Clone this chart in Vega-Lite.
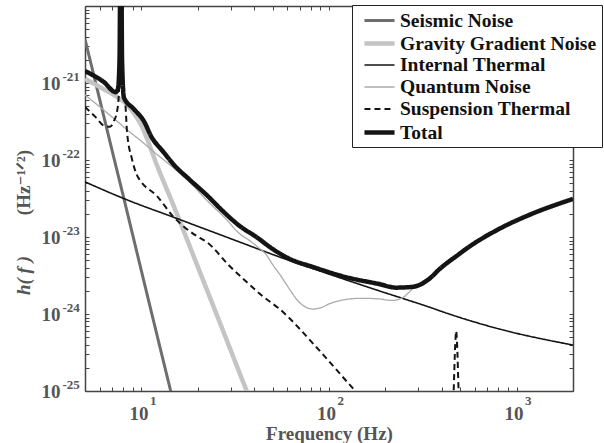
{
  "$schema": "https://vega.github.io/schema/vega-lite/v6.json",
  "width": 488,
  "height": 385,
  "autosize": "none",
  "padding": {"left": 85, "top": 6, "right": 31, "bottom": 52},
  "background": "white",
  "config": {
    "view": {"stroke": null},
    "axis": {
      "grid": false,
      "domainColor": "#444444",
      "domainWidth": 1.5,
      "tickColor": "#444444",
      "tickWidth": 1,
      "labelFont": "'Liberation Serif', 'DejaVu Serif', serif",
      "labelFontWeight": "bold",
      "labelFontSize": 19,
      "labelColor": "#555555",
      "titleFont": "'Liberation Serif', 'DejaVu Serif', serif",
      "titleFontWeight": "bold",
      "titleFontSize": 19,
      "titleColor": "#555555",
      "labelOverlap": false,
      "labelFlush": false,
      "labelBound": false
    },
    "legend": {
      "orient": "none", "legendX": 267, "legendY": -1,
      "strokeColor": "#222222", "fillColor": "white", "padding": 5,
      "symbolType": "M-1.67,0H1.67", "symbolSize": 324, "symbolOffset": 11,
      "labelFont": "'Liberation Serif', serif", "labelFontSize": 19.5, "labelFontWeight": "bold",
      "labelColor": "#111111", "labelOffset": 9, "rowPadding": 2, "labelLimit": 400
    }
  },
  "data": {
    "values": [
      {"s": "Seismic Noise", "f": 5, "h": 3.7e-21},
      {"s": "Seismic Noise", "f": 6, "h": 6.0e-22},
      {"s": "Seismic Noise", "f": 7, "h": 1.28e-22},
      {"s": "Seismic Noise", "f": 8, "h": 3.4e-23},
      {"s": "Seismic Noise", "f": 10, "h": 3.6e-24},
      {"s": "Seismic Noise", "f": 12, "h": 5.8e-25},
      {"s": "Seismic Noise", "f": 14, "h": 1.25e-25},
      {"s": "Seismic Noise", "f": 16, "h": 3.3e-26},

      {"s": "Gravity Gradient Noise", "f": 5, "h": 1.13e-21},
      {"s": "Gravity Gradient Noise", "f": 6.3, "h": 8.3e-22},
      {"s": "Gravity Gradient Noise", "f": 7.4, "h": 6.6e-22},
      {"s": "Gravity Gradient Noise", "f": 8.4, "h": 5.2e-22},
      {"s": "Gravity Gradient Noise", "f": 9.2, "h": 3.9e-22},
      {"s": "Gravity Gradient Noise", "f": 10, "h": 2.8e-22},
      {"s": "Gravity Gradient Noise", "f": 10.7, "h": 1.9e-22},
      {"s": "Gravity Gradient Noise", "f": 12, "h": 9.0e-23},
      {"s": "Gravity Gradient Noise", "f": 14.7, "h": 2.7e-23},
      {"s": "Gravity Gradient Noise", "f": 20.5, "h": 3.5e-24},
      {"s": "Gravity Gradient Noise", "f": 28, "h": 5.1e-25},
      {"s": "Gravity Gradient Noise", "f": 36.4, "h": 1.0e-25},
      {"s": "Gravity Gradient Noise", "f": 42.7, "h": 3.8e-26},

      {"s": "Internal Thermal", "f": 5, "h": 5.2e-23},
      {"s": "Internal Thermal", "f": 8.2, "h": 3.1e-23},
      {"s": "Internal Thermal", "f": 14.7, "h": 1.82e-23},
      {"s": "Internal Thermal", "f": 33.4, "h": 8.6e-24},
      {"s": "Internal Thermal", "f": 54.5, "h": 5.5e-24},
      {"s": "Internal Thermal", "f": 100, "h": 3.3e-24},
      {"s": "Internal Thermal", "f": 185, "h": 2.0e-24},
      {"s": "Internal Thermal", "f": 342, "h": 1.23e-24},
      {"s": "Internal Thermal", "f": 437, "h": 1.0e-24},
      {"s": "Internal Thermal", "f": 806, "h": 6.4e-25},
      {"s": "Internal Thermal", "f": 2000, "h": 3.95e-25},

      {"s": "Quantum Noise", "f": 5, "h": 7.0e-22},
      {"s": "Quantum Noise", "f": 6, "h": 4.9e-22},
      {"s": "Quantum Noise", "f": 7.4, "h": 3.2e-22},
      {"s": "Quantum Noise", "f": 8.5, "h": 2.4e-22},
      {"s": "Quantum Noise", "f": 10, "h": 1.75e-22},
      {"s": "Quantum Noise", "f": 12, "h": 1.2e-22},
      {"s": "Quantum Noise", "f": 14.3, "h": 8.5e-23},
      {"s": "Quantum Noise", "f": 18, "h": 5.2e-23},
      {"s": "Quantum Noise", "f": 22.3, "h": 3.0e-23},
      {"s": "Quantum Noise", "f": 28, "h": 1.75e-23},
      {"s": "Quantum Noise", "f": 33.4, "h": 1.1e-23},
      {"s": "Quantum Noise", "f": 37.7, "h": 9.0e-24},
      {"s": "Quantum Noise", "f": 42, "h": 7.3e-24},
      {"s": "Quantum Noise", "f": 46.5, "h": 5.8e-24},
      {"s": "Quantum Noise", "f": 50, "h": 4.4e-24},
      {"s": "Quantum Noise", "f": 54.5, "h": 3.3e-24},
      {"s": "Quantum Noise", "f": 61.6, "h": 2.1e-24},
      {"s": "Quantum Noise", "f": 68, "h": 1.5e-24},
      {"s": "Quantum Noise", "f": 75, "h": 1.23e-24},
      {"s": "Quantum Noise", "f": 82, "h": 1.16e-24},
      {"s": "Quantum Noise", "f": 90, "h": 1.2e-24},
      {"s": "Quantum Noise", "f": 100, "h": 1.35e-24},
      {"s": "Quantum Noise", "f": 124, "h": 1.55e-24},
      {"s": "Quantum Noise", "f": 150, "h": 1.6e-24},
      {"s": "Quantum Noise", "f": 185, "h": 1.57e-24},
      {"s": "Quantum Noise", "f": 217, "h": 1.5e-24},
      {"s": "Quantum Noise", "f": 246, "h": 1.62e-24},
      {"s": "Quantum Noise", "f": 278, "h": 2.1e-24},
      {"s": "Quantum Noise", "f": 330, "h": 2.85e-24},
      {"s": "Quantum Noise", "f": 387, "h": 3.7e-24},
      {"s": "Quantum Noise", "f": 494, "h": 5.9e-24},
      {"s": "Quantum Noise", "f": 538, "h": 6.9e-24},
      {"s": "Quantum Noise", "f": 806, "h": 1.26e-23},
      {"s": "Quantum Noise", "f": 1208, "h": 1.98e-23},
      {"s": "Quantum Noise", "f": 2000, "h": 3.1e-23},

      {"s": "Suspension Thermal", "f": 5, "h": 4.9e-22},
      {"s": "Suspension Thermal", "f": 5.7, "h": 3.6e-22},
      {"s": "Suspension Thermal", "f": 6.3, "h": 2.8e-22},
      {"s": "Suspension Thermal", "f": 6.8, "h": 2.7e-22},
      {"s": "Suspension Thermal", "f": 7.13, "h": 3.2e-22},
      {"s": "Suspension Thermal", "f": 7.45, "h": 4.6e-22},
      {"s": "Suspension Thermal", "f": 7.62, "h": 1.0e-21},
      {"s": "Suspension Thermal", "f": 7.72, "h": 3e-20},
      {"s": "Suspension Thermal", "f": 7.78, "h": 3e-20},
      {"s": "Suspension Thermal", "f": 7.9, "h": 1.0e-21},
      {"s": "Suspension Thermal", "f": 8.2, "h": 5.6e-22},
      {"s": "Suspension Thermal", "f": 8.38, "h": 2.3e-22},
      {"s": "Suspension Thermal", "f": 8.9, "h": 1.03e-22},
      {"s": "Suspension Thermal", "f": 9.45, "h": 6.4e-23},
      {"s": "Suspension Thermal", "f": 9.8, "h": 5.5e-23},
      {"s": "Suspension Thermal", "f": 12.1, "h": 3.4e-23},
      {"s": "Suspension Thermal", "f": 14.7, "h": 1.87e-23},
      {"s": "Suspension Thermal", "f": 19.7, "h": 1.03e-23},
      {"s": "Suspension Thermal", "f": 22.3, "h": 8.6e-24},
      {"s": "Suspension Thermal", "f": 29.5, "h": 4.2e-24},
      {"s": "Suspension Thermal", "f": 36.4, "h": 2.6e-24},
      {"s": "Suspension Thermal", "f": 44.2, "h": 1.71e-24},
      {"s": "Suspension Thermal", "f": 54.5, "h": 1.16e-24},
      {"s": "Suspension Thermal", "f": 85.7, "h": 3.7e-25},
      {"s": "Suspension Thermal", "f": 132, "h": 1.13e-25},
      {"s": "Suspension Thermal", "f": 150, "h": 8e-26},
      {"s": "Suspension Thermal", "f": 300, "h": 1.5e-26},
      {"s": "Suspension Thermal", "f": 430, "h": 1e-26},
      {"s": "Suspension Thermal", "f": 455, "h": 4e-26},
      {"s": "Suspension Thermal", "f": 462, "h": 1e-25},
      {"s": "Suspension Thermal", "f": 471, "h": 4e-25},
      {"s": "Suspension Thermal", "f": 476.5, "h": 6e-25},
      {"s": "Suspension Thermal", "f": 482, "h": 4e-25},
      {"s": "Suspension Thermal", "f": 491, "h": 1e-25},
      {"s": "Suspension Thermal", "f": 499, "h": 4e-26},
      {"s": "Suspension Thermal", "f": 530, "h": 1e-26},
      {"s": "Suspension Thermal", "f": 700, "h": 3e-27},

      {"s": "Total", "f": 5, "h": 1.43e-21},
      {"s": "Total", "f": 6.3, "h": 1.03e-21},
      {"s": "Total", "f": 7.3, "h": 7.6e-22},
      {"s": "Total", "f": 7.5, "h": 8.5e-22},
      {"s": "Total", "f": 7.64, "h": 2e-21},
      {"s": "Total", "f": 7.73, "h": 5e-20},
      {"s": "Total", "f": 7.8, "h": 5e-20},
      {"s": "Total", "f": 7.88, "h": 2e-21},
      {"s": "Total", "f": 8.06, "h": 6.5e-22},
      {"s": "Total", "f": 9.1, "h": 4.6e-22},
      {"s": "Total", "f": 10.3, "h": 3.2e-22},
      {"s": "Total", "f": 11.3, "h": 2.0e-22},
      {"s": "Total", "f": 13, "h": 1.3e-22},
      {"s": "Total", "f": 15, "h": 8.5e-23},
      {"s": "Total", "f": 18, "h": 5.6e-23},
      {"s": "Total", "f": 22.3, "h": 3.5e-23},
      {"s": "Total", "f": 27, "h": 2.2e-23},
      {"s": "Total", "f": 33.4, "h": 1.39e-23},
      {"s": "Total", "f": 41, "h": 1.0e-23},
      {"s": "Total", "f": 50, "h": 7.0e-24},
      {"s": "Total", "f": 61.6, "h": 5.2e-24},
      {"s": "Total", "f": 81.6, "h": 4.1e-24},
      {"s": "Total", "f": 124, "h": 3.0e-24},
      {"s": "Total", "f": 185, "h": 2.45e-24},
      {"s": "Total", "f": 228, "h": 2.2e-24},
      {"s": "Total", "f": 278, "h": 2.25e-24},
      {"s": "Total", "f": 342, "h": 2.85e-24},
      {"s": "Total", "f": 387, "h": 3.8e-24},
      {"s": "Total", "f": 494, "h": 6.0e-24},
      {"s": "Total", "f": 538, "h": 7.0e-24},
      {"s": "Total", "f": 806, "h": 1.27e-23},
      {"s": "Total", "f": 1208, "h": 2.0e-23},
      {"s": "Total", "f": 2000, "h": 3.12e-23}
    ]
  },
  "layer": [
    {
      "mark": {"type": "line", "clip": true, "interpolate": "monotone"},
      "encoding": {
        "x": {
          "field": "f", "type": "quantitative",
          "scale": {"type": "log", "domain": [5, 2000], "nice": false},
          "axis": {
            "orient": "bottom",
            "values": [5, 6, 7, 8, 9, 10, 20, 30, 40, 50, 60, 70, 80, 90, 100, 200, 300, 400, 500, 600, 700, 800, 900, 1000, 2000],
            "labelExpr": "datum.value == 10 || datum.value == 100 || datum.value == 1000 ? '10' : ''",
            "tickSize": -4,
            "labelPadding": 17,
            "labelOffset": -3,
            "title": "Frequency (Hz)",
            "titlePadding": 1
          }
        },
        "y": {
          "field": "h", "type": "quantitative",
          "scale": {"type": "log", "domain": [1e-25, 1e-20], "nice": false},
          "axis": {
            "orient": "left",
            "values": [1e-25, 2e-25, 3e-25, 4e-25, 5e-25, 6e-25, 7e-25, 8e-25, 9e-25, 1e-24, 2e-24, 3e-24, 4e-24, 5e-24, 6e-24, 7e-24, 8e-24, 9e-24, 1e-23, 2e-23, 3e-23, 4e-23, 5e-23, 6e-23, 7e-23, 8e-23, 9e-23, 1e-22, 2e-22, 3e-22, 4e-22, 5e-22, 6e-22, 7e-22, 8e-22, 9e-22, 1e-21, 2e-21, 3e-21, 4e-21, 5e-21, 6e-21, 7e-21, 8e-21, 9e-21, 1e-20],
            "labelExpr": "datum.value == 1e-21 || datum.value == 1e-22 || datum.value == 1e-23 || datum.value == 1e-24 || datum.value == 1e-25 ? '10' : ''",
            "tickSize": -4,
            "labelPadding": 29,
            "title": "(Hz⁻¹ᐟ²)",
            "titleX": -52,
            "titleY": 176
          }
        },
        "color": {
          "field": "s", "type": "nominal",
          "scale": {
            "domain": ["Seismic Noise", "Gravity Gradient Noise", "Internal Thermal", "Quantum Noise", "Suspension Thermal", "Total"],
            "range": ["#6e6e6e", "#c4c4c4", "#141414", "#ababab", "#141414", "#141414"]
          },
          "legend": {"title": null}
        },
        "strokeWidth": {
          "field": "s", "type": "nominal",
          "scale": {
            "type": "ordinal",
            "domain": ["Seismic Noise", "Gravity Gradient Noise", "Internal Thermal", "Quantum Noise", "Suspension Thermal", "Total"],
            "range": [3, 4.5, 1.6, 1.3, 2, 4.5]
          },
          "legend": {"title": null}
        },
        "strokeDash": {
          "field": "s", "type": "nominal",
          "scale": {
            "domain": ["Seismic Noise", "Gravity Gradient Noise", "Internal Thermal", "Quantum Noise", "Suspension Thermal", "Total"],
            "range": [[1, 0], [1, 0], [1, 0], [1, 0], [6, 4], [1, 0]]
          },
          "legend": {"title": null}
        }
      }
    },
    {
      "mark": {"type": "point", "opacity": 0},
      "encoding": {
        "x": {
          "field": "f", "type": "quantitative",
          "axis": {
            "orient": "top", "labels": false, "title": null,
            "values": [5, 6, 7, 8, 9, 10, 20, 30, 40, 50, 60, 70, 80, 90, 100, 200, 300, 400, 500, 600, 700, 800, 900, 1000, 2000],
            "tickSize": -4
          }
        },
        "y": {
          "field": "h", "type": "quantitative",
          "axis": {
            "orient": "right", "labels": false, "title": null,
            "values": [1e-25, 2e-25, 3e-25, 4e-25, 5e-25, 6e-25, 7e-25, 8e-25, 9e-25, 1e-24, 2e-24, 3e-24, 4e-24, 5e-24, 6e-24, 7e-24, 8e-24, 9e-24, 1e-23, 2e-23, 3e-23, 4e-23, 5e-23, 6e-23, 7e-23, 8e-23, 9e-23, 1e-22, 2e-22, 3e-22, 4e-22, 5e-22, 6e-22, 7e-22, 8e-22, 9e-22, 1e-21, 2e-21, 3e-21, 4e-21, 5e-21, 6e-21, 7e-21, 8e-21, 9e-21, 1e-20],
            "tickSize": -4
          }
        }
      }
    },
    {
      "mark": {"type": "point", "opacity": 0},
      "encoding": {
        "x": {
          "field": "f", "type": "quantitative",
          "axis": {
            "orient": "bottom", "domain": false, "ticks": false, "tickSize": 0, "title": null,
            "values": [10, 100, 1000],
            "labelExpr": "datum.value == 10 ? '1' : datum.value == 100 ? '2' : '3'",
            "labelFontSize": 13, "labelAlign": "left", "labelOffset": 8, "labelPadding": 3
          }
        },
        "y": {
          "field": "h", "type": "quantitative",
          "axis": {
            "orient": "left", "domain": false, "ticks": false, "tickSize": 0,
            "values": [1e-25, 1e-24, 1e-23, 1e-22, 1e-21],
            "labelExpr": "datum.value == 1e-21 ? '-21' : datum.value == 1e-22 ? '-22' : datum.value == 1e-23 ? '-23' : datum.value == 1e-24 ? '-24' : '-25'",
            "labelFontSize": 13, "labelAlign": "left", "labelBaseline": "middle", "labelOffset": -7, "labelPadding": 23,
            "title": "h( f )",
            "titleFontStyle": "italic",
            "titleX": -52,
            "titleY": 269
          }
        }
      }
    }
  ],
  "resolve": {"axis": {"x": "independent", "y": "independent"}}
}
